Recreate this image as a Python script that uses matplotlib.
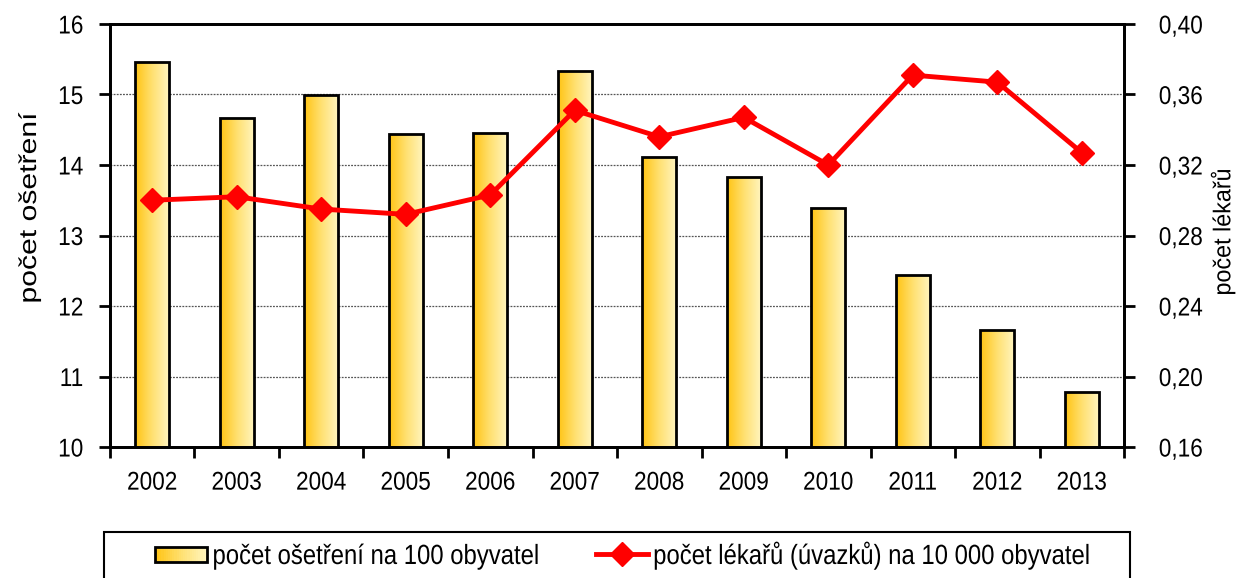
import numpy as np
import matplotlib
matplotlib.use('Agg')
import matplotlib.pyplot as plt
from matplotlib.colors import LinearSegmentedColormap
from matplotlib.patches import Rectangle
from matplotlib.lines import Line2D
from matplotlib.legend_handler import HandlerBase
from matplotlib.patheffects import AbstractPathEffect
from matplotlib.transforms import Affine2D
from matplotlib.ticker import FixedLocator, FuncFormatter

plt.rcParams['font.family'] = ['Liberation Sans', 'DejaVu Sans']

years = ['2002', '2003', '2004', '2005', '2006', '2007',
         '2008', '2009', '2010', '2011', '2012', '2013']
osetreni = [15.46, 14.67, 14.99, 14.44, 14.45, 15.33,
            14.11, 13.83, 13.39, 12.44, 11.66, 10.78]
lekari = [0.300, 0.302, 0.295, 0.292, 0.303, 0.351,
          0.336, 0.347, 0.320, 0.371, 0.367, 0.327]

label_bars = 'počet ošetření na 100 obyvatel'
label_line = 'počet lékařů (úvazků) na 10 000 obyvatel'

cmap = LinearSegmentedColormap.from_list('zluta', ['#FFC414', '#FFE070', '#FFF4BC'])
grad = np.linspace(0, 1, 64).reshape(1, -1)


class Stretch(AbstractPathEffect):
    # zuzeni / roztazeni textu podel radku (puvodni graf je "stlaceny")
    def __init__(self, sx, anchor='center'):
        super().__init__()
        self.sx = sx
        self.anchor = anchor

    def draw_path(self, renderer, gc, tpath, affine, rgbFace=None):
        ext = tpath.get_extents()
        if self.anchor == 'left':
            cx = 0.0
        elif self.anchor == 'right':
            cx = ext.x1
        else:
            cx = (ext.x0 + ext.x1) / 2
        t = Affine2D().translate(-cx, 0).scale(self.sx, 1).translate(cx, 0) + affine
        renderer.draw_path(gc, tpath, t, rgbFace)


class GradientHandler(HandlerBase):
    # legendovy symbol s prechodem barvy
    def create_artists(self, legend, orig_handle, xdescent, ydescent,
                       width, height, fontsize, trans):
        n = 24
        h = height * 0.8
        y0 = -ydescent + (height - h) / 2
        arts = []
        for i in range(n):
            r = Rectangle((-xdescent + width * i / n, y0), width / n + 0.3, h,
                          facecolor=cmap(i / (n - 1)), edgecolor='none', transform=trans)
            arts.append(r)
        arts.append(Rectangle((-xdescent, y0), width, h, facecolor='none',
                              edgecolor='black', linewidth=2, transform=trans))
        return arts


fig = plt.figure(figsize=(12.37, 5.78), dpi=100)
ax1 = fig.add_axes([0.0889, 0.2266, 0.8198, 0.7319])
ax2 = ax1.twinx()

x = np.arange(len(years))
w = 0.4
bars = ax1.bar(x, osetreni, width=w, facecolor='none', edgecolor='black',
               linewidth=2, zorder=3)
for b in bars:
    im = ax1.imshow(grad, cmap=cmap, aspect='auto', zorder=2,
                    extent=[b.get_x(), b.get_x() + b.get_width(), 10, b.get_height()])
    im.set_clip_path(b)

ax1.set_xlim(-0.5, len(years) - 0.5)
ax1.set_ylim(10, 16)
ax1.set_yticks(range(10, 17))
ax1.set_axisbelow(True)
ax1.yaxis.grid(True, linestyle=(0, (1.5, 1.0)), color='#555555', linewidth=0.9)
ax1.set_xticks(x)
ax1.set_xticklabels(years)
ax1.xaxis.set_minor_locator(FixedLocator(np.arange(-0.5, len(years), 1)))
ax1.tick_params(axis='x', which='major', length=0, pad=17, labelsize=18.5)
ax1.tick_params(axis='x', which='minor', length=8, width=2, direction='out')
ax1.tick_params(axis='y', length=8, width=2, direction='out', labelsize=18.5, pad=11)
ax1.set_ylabel('počet ošetření', fontsize=17.5)
ax1.yaxis.set_label_coords(-0.068, 0.565)

ax2.plot(x, lekari, color='#FF0000', linewidth=3.5, marker='D', markersize=12,
         zorder=5)
ax2.set_ylim(0.16, 0.40)
ax2.set_yticks(np.arange(0.16, 0.401, 0.04))
ax2.yaxis.set_major_formatter(FuncFormatter(lambda v, p: f'{v:.2f}'.replace('.', ',')))
ax2.tick_params(axis='y', length=8, width=2, direction='out', labelsize=18.5, pad=17)
ax2.set_ylabel('počet lékařů', fontsize=17.5)
ax2.yaxis.set_label_coords(1.0855, 0.508)

for ax in (ax1, ax2):
    for s in ax.spines.values():
        s.set_linewidth(2)

for t in ax1.get_xticklabels():
    t.set_path_effects([Stretch(0.88, 'center')])
for t in ax1.get_yticklabels():
    t.set_path_effects([Stretch(0.88, 'right')])
for t in ax2.get_yticklabels():
    t.set_path_effects([Stretch(0.88, 'left')])
ax1.yaxis.label.set_path_effects([Stretch(1.24, 'center')])
ax2.yaxis.label.set_path_effects([Stretch(0.96, 'center')])

h_bar = Rectangle((0, 0), 1, 1)
h_line = Line2D([], [], color='#FF0000', linewidth=3.5, marker='D', markersize=12)
leg = fig.legend([h_bar, h_line], [label_bars, label_line], ncol=2,
                 loc='upper left', bbox_to_anchor=(155 / 1237, 1 - 541 / 578),
                 handler_map={Rectangle: GradientHandler()},
                 fontsize=20, frameon=False,
                 handlelength=1.87, handleheight=0.7, handletextpad=0.2,
                 columnspacing=0.15, borderpad=0, borderaxespad=0)
for t in leg.get_texts():
    t.set_path_effects([Stretch(0.86, 'left')])

# ramecek legendy (spodni cast je oriznuta)
fig.patches.append(Rectangle((104 / 1237, -0.05), (1130 - 104) / 1237, 0.05 + 46 / 578,
                             transform=fig.transFigure, facecolor='none',
                             edgecolor='black', linewidth=1.5))

fig.savefig('out.png', dpi=100)
